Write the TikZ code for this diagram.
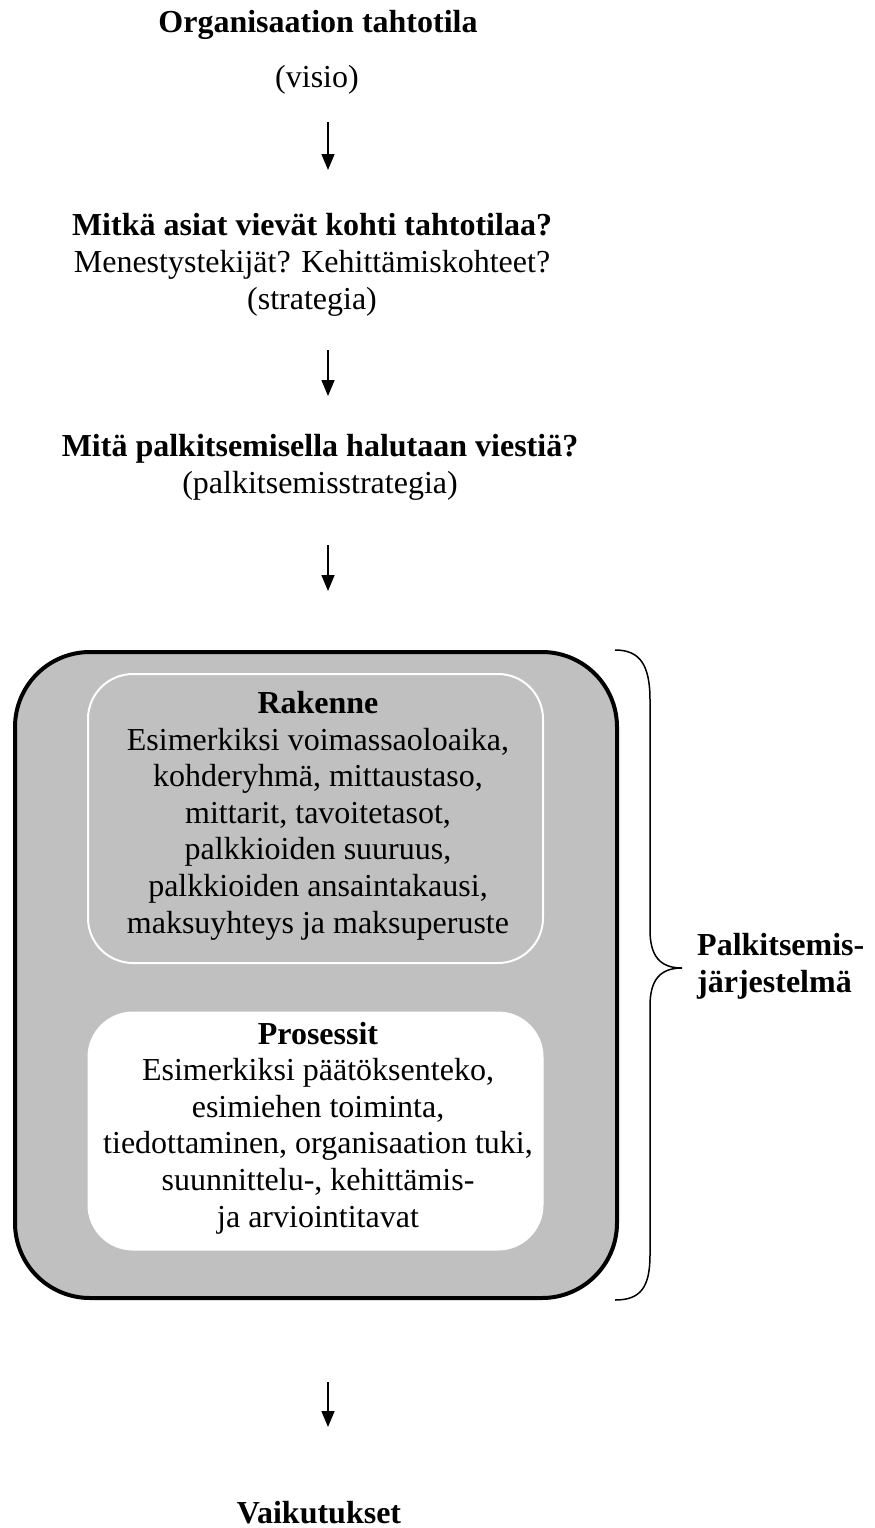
\documentclass[tikz,border=0pt]{standalone}
\usepackage{fontspec}
\setmainfont{Liberation Serif}
\usetikzlibrary{arrows.meta}
\definecolor{boxgray}{HTML}{C0C0C0}
\tikzset{
  txt/.style={align=center, inner sep=0pt, anchor=base, font=\fontsize{32}{37}\selectfont},
  boxtxt/.style={align=center, inner sep=0pt, anchor=base, font=\fontsize{32}{36.6}\selectfont},
  outerbox/.style={draw=black, line width=4pt, fill=boxgray, rounded corners=75pt, inner sep=0pt},
  rakbox/.style={draw=white, line width=2pt, fill=boxgray, rounded corners=45pt, inner sep=0pt},
  probox/.style={draw=white, line width=1pt, fill=white, rounded corners=45pt, inner sep=0pt},
  flowarrow/.style={line width=1.5pt, -{Triangle[length=16pt,width=13pt]}},
  bracepath/.style={line width=1.5pt}
}
\begin{document}
\begin{tikzpicture}[x=1pt,y=-1pt]
\useasboundingbox (0,0) rectangle (875,1528);
\node[txt] (org) at (318,33) {\textbf{Organisaation tahtotila}};
\node[txt] (visio) at (317,87) {(visio)};
\node[txt] (strat) at (312,309) {\textbf{Mitkä asiat vievät kohti tahtotilaa?}\\Menestystekijät? Kehittämiskohteet?\\(strategia)};
\node[txt] (palk) at (320,493) {\textbf{Mitä palkitsemisella halutaan viestiä?}\\(palkitsemisstrategia)};
\node[outerbox, minimum width=602pt, minimum height=646pt] (outer) at (316,975) {};
\node[rakbox, minimum width=455pt, minimum height=289pt] (rakbox) at (315.5,818.5) {};
\node[probox, minimum width=455pt, minimum height=238pt] (probox) at (315.5,1131) {};
\node[boxtxt] (raktxt) at (318,933) {\textbf{Rakenne}\\Esimerkiksi voimassaoloaika,\\kohderyhmä, mittaustaso,\\mittarit, tavoitetasot,\\palkkioiden suuruus,\\palkkioiden ansaintakausi,\\maksuyhteys ja maksuperuste};
\node[boxtxt] (protxt) at (318,1227) {\textbf{Prosessit}\\Esimerkiksi päätöksenteko,\\esimiehen toiminta,\\tiedottaminen, organisaation tuki,\\suunnittelu-, kehittämis-\\ja arviointitavat};
\node[txt, align=left, anchor=base west] (jarj) at (697,992) {\textbf{Palkitsemis-}\\\textbf{järjestelmä}};
\node[txt] (vaik) at (319,1523) {\textbf{Vaikutukset}};
\coordinate (a1s) at (328,122); \coordinate (a1e) at (328,170);
\coordinate (a2s) at (328,350); \coordinate (a2e) at (328,396);
\coordinate (a3s) at (328,545); \coordinate (a3e) at (328,591);
\coordinate (a4s) at (328,1382); \coordinate (a4e) at (328,1427);
\draw[flowarrow] (a1s) -- (a1e);
\draw[flowarrow] (a2s) -- (a2e);
\draw[flowarrow] (a3s) -- (a3e);
\draw[flowarrow] (a4s) -- (a4e);
\coordinate (btop) at (615,650);
\coordinate (btip) at (682,968);
\coordinate (bbot) at (615,1300);
\draw[bracepath] (btop) .. controls (640,650) and (650,665) .. (650,700) -- (650,930) .. controls (650,956) and (660,968) .. (btip) .. controls (660,968) and (650,980) .. (650,1006) -- (650,1255) .. controls (650,1288) and (640,1300) .. (bbot);
\end{tikzpicture}
\end{document}
